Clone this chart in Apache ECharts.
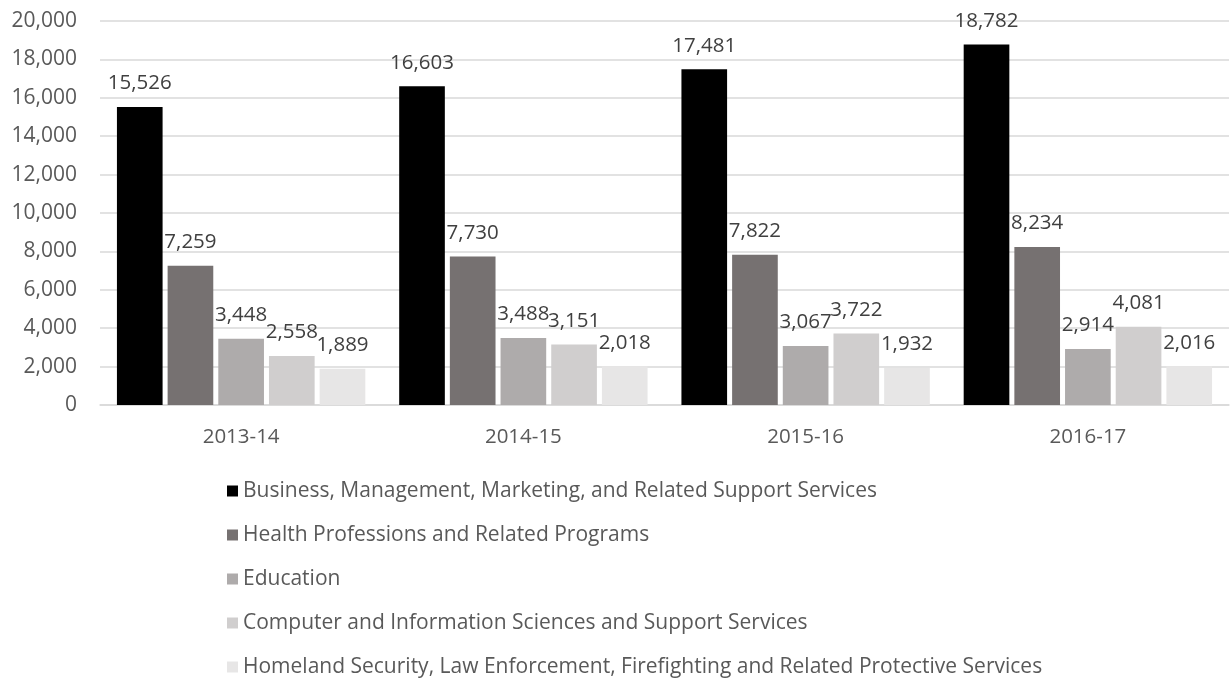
<!DOCTYPE html>
<html><head><meta charset="utf-8">
<script src="https://cdn.jsdelivr.net/npm/echarts@6/dist/echarts.min.js"></script>
<style>html,body{margin:0;padding:0;background:#fff}#c{width:1231px;height:681px}</style>
</head><body><div id="c"></div>
<script>
const categories = ['2013-14', '2014-15', '2015-16', '2016-17'];
const seriesNames = [
  'Business, Management, Marketing, and Related Support Services',
  'Health Professions and Related Programs',
  'Education',
  'Computer and Information Sciences and Support Services',
  'Homeland Security, Law Enforcement, Firefighting and Related Protective Services'
];
const business = [15526, 16603, 17481, 18782];
const health = [7259, 7730, 7822, 8234];
const education = [3448, 3488, 3067, 2914];
const computer = [2558, 3151, 3722, 4081];
const homeland = [1889, 2018, 1932, 2016];
const colors = ['#000000', '#767171', '#AEABAB', '#D0CECE', '#E7E6E6'];
const values = [business, health, education, computer, homeland];

const FONT = 'Open Sans';
const chart = echarts.init(document.getElementById('c'));
chart.setOption({
  animation: false,
  textStyle: { fontFamily: FONT },
  grid: { left: 100, right: 2, top: 21, bottom: 276, containLabel: false },
  legend: {
    orient: 'vertical', left: 222, top: 475, height: 230, itemGap: 22,
    itemWidth: 11, itemHeight: 11, icon: 'rect',
    textStyle: { fontFamily: FONT, fontSize: 21, color: '#595959', lineHeight: 22 },
    data: seriesNames
  },
  xAxis: {
    type: 'category', data: categories,
    axisLine: { lineStyle: { color: '#D9D9D9', width: 1.5 } },
    axisTick: { show: false },
    axisLabel: { fontFamily: FONT, fontSize: 20.5, color: '#595959', margin: 22 }
  },
  yAxis: {
    type: 'value', min: 0, max: 20000, interval: 2000,
    axisLine: { show: false }, axisTick: { show: false },
    splitLine: { lineStyle: { color: '#D9D9D9', width: 1.5 } },
    axisLabel: { fontFamily: FONT, fontSize: 21, color: '#595959', margin: 23,
      formatter: v => v.toLocaleString('en-US') }
  },
  series: seriesNames.map((n, i) => ({
    name: n, type: 'bar', data: values[i],
    barGap: '11%', barCategoryGap: '12%',
    itemStyle: { color: colors[i] },
    label: { show: true, position: 'top', distance: 13, fontFamily: FONT, fontSize: 20.5, color: '#404040',
      formatter: p => p.value.toLocaleString('en-US') }
  }))
});
</script></body></html>
